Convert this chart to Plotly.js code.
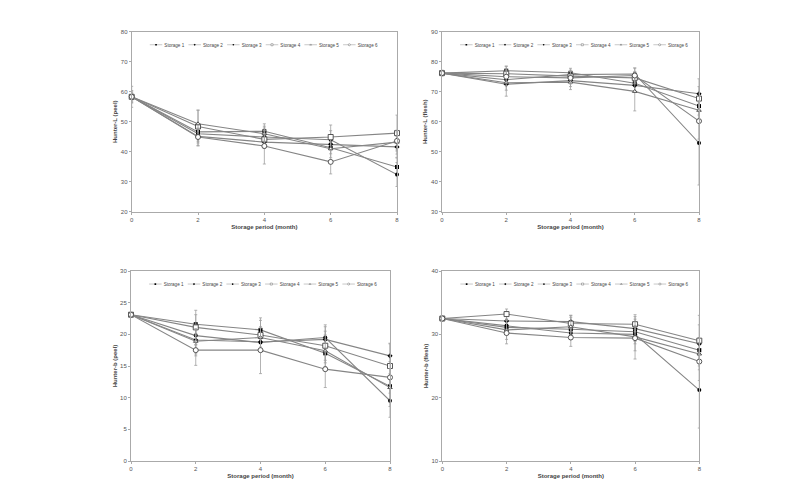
<!DOCTYPE html>
<html>
<head>
<meta charset="utf-8">
<script src="https://cdn.plot.ly/plotly-3.0.1.min.js"></script>
<style>html,body{margin:0;padding:0;background:#fff;}#chart{width:796px;height:498px;}</style>
</head>
<body>
<div id="chart"></div>
<script>
var months = [0, 2, 4, 6, 8];
var seriesNames = ["Storage 1", "Storage 2", "Storage 3", "Storage 4", "Storage 5", "Storage 6"];

// Hunter-L (peel)
var lPeel = [
  [58.3, 46.6, 46.8, 41.3, 34.9],
  [58.3, 45.1, 43.2, 42.5, 41.6],
  [58.3, 46.0, 44.9, 44.0, 32.4],
  [58.3, 48.4, 44.1, 44.9, 46.2],
  [58.3, 49.3, 46.0, 41.0, 43.2],
  [58.3, 44.9, 41.9, 36.6, 43.6]
];
var lPeelErr = [
  [1.0, 2.0, 2.5, 2.0, 3.0],
  [1.5, 3.0, 2.0, 2.0, 3.5],
  [1.0, 2.5, 2.0, 3.0, 4.0],
  [3.5, 5.5, 3.0, 4.0, 6.0],
  [2.0, 4.5, 2.5, 3.0, 4.0],
  [2.0, 3.0, 6.0, 4.0, 3.0]
];
// Hunter-L (flesh)
var lFlesh = [
  [76.2, 77.0, 76.3, 72.8, 65.2],
  [76.2, 72.5, 73.7, 72.1, 69.3],
  [76.2, 74.0, 75.7, 75.9, 52.9],
  [76.2, 76.0, 75.2, 74.6, 67.7],
  [76.2, 73.0, 73.2, 70.1, 63.8],
  [76.2, 75.0, 74.6, 75.4, 60.2]
];
var lFleshErr = [
  [0.5, 1.5, 1.5, 2.5, 3.0],
  [0.8, 2.0, 2.0, 2.0, 5.0],
  [0.5, 2.0, 1.5, 2.0, 14.0],
  [1.0, 2.5, 1.5, 2.0, 4.0],
  [0.5, 4.5, 2.5, 6.5, 3.0],
  [0.8, 2.0, 2.0, 2.5, 6.0]
];
// Hunter-b (peel)
var bPeel = [
  [23.1, 21.6, 20.7, 17.0, 11.8],
  [23.1, 19.1, 18.8, 19.2, 16.6],
  [23.1, 19.8, 18.7, 19.5, 9.5],
  [23.1, 21.1, 19.9, 18.2, 15.0],
  [23.1, 18.9, 19.5, 17.4, 11.6],
  [23.1, 17.5, 17.5, 14.5, 13.2]
];
var bPeelErr = [
  [0.3, 1.5, 1.5, 1.5, 2.0],
  [0.3, 2.5, 1.5, 2.0, 2.0],
  [0.3, 1.5, 1.5, 2.0, 2.6],
  [0.3, 2.7, 2.7, 2.3, 3.5],
  [0.3, 2.0, 1.5, 2.5, 3.0],
  [0.3, 2.4, 3.7, 2.9, 2.5]
];
// Hunter-b (flesh)
var bFlesh = [
  [32.5, 31.1, 30.8, 30.4, 27.5],
  [32.5, 32.1, 32.0, 30.9, 28.5],
  [32.5, 31.4, 30.2, 30.0, 21.2],
  [32.5, 33.2, 31.7, 31.6, 29.0],
  [32.5, 30.7, 31.2, 29.6, 26.9],
  [32.5, 30.2, 29.5, 29.4, 25.7]
];
var bFleshErr = [
  [0.3, 1.0, 1.0, 1.5, 2.0],
  [0.3, 1.5, 1.0, 1.5, 3.0],
  [0.3, 1.0, 1.0, 1.5, 6.0],
  [0.3, 0.8, 1.3, 1.2, 4.0],
  [0.3, 1.5, 1.5, 3.5, 2.5],
  [0.3, 1.7, 1.4, 2.0, 3.0]
];

var yTitles = ["Hunter-L (peel)", "Hunter-L (flesh)", "Hunter-b (peel)", "Hunter-b (flesh)"];
var yRanges = [[20, 80], [30, 90], [0, 30], [10, 40]];
var yDtick = [10, 10, 5, 10];
var xTitle = "Storage period (month)";

var panels = [
  {vals: lPeel, errs: lPeelErr},
  {vals: lFlesh, errs: lFleshErr},
  {vals: bPeel, errs: bPeelErr},
  {vals: bFlesh, errs: bFleshErr}
];

var markerSymbols = ["square", "diamond", "circle", "square", "triangle-up", "circle"];
var markerOpen = [false, false, false, true, true, true];
var markerSizes = [4, 4, 4, 5, 4, 5];

var W = 796, H = 498;
var boxes = [
  {x0: 131.7, x1: 397, y0: 31.7, y1: 211.7},
  {x0: 442, x1: 699, y0: 31.7, y1: 211.7},
  {x0: 131, x1: 390, y0: 271, y1: 461},
  {x0: 442.3, x1: 699.3, y0: 271, y1: 461}
];

var traces = [];
var layout = {
  width: W, height: H,
  margin: {l: 0, r: 0, t: 0, b: 0, autoexpand: false},
  paper_bgcolor: "#fff",
  plot_bgcolor: "#fff",
  font: {family: "Liberation Sans, Arial, sans-serif", size: 6, color: "#444"},
  showlegend: true
};

panels.forEach(function (p, pi) {
  var sfx = pi === 0 ? "" : String(pi + 1);
  var b = boxes[pi];
  p.vals.forEach(function (vals, si) {
    var open = markerOpen[si];
    traces.push({
      type: "scatter",
      mode: "lines+markers",
      name: seriesNames[si],
      x: months,
      y: vals,
      xaxis: "x" + sfx,
      yaxis: "y" + sfx,
      legend: "legend" + sfx,
      error_y: {type: "data", array: p.errs[si], visible: true, color: "#a0a0a0", thickness: 0.8, width: 1.5},
      line: {color: "#858585", width: 1.1},
      marker: {symbol: markerSymbols[si], size: markerSizes[si], color: open ? "#fff" : "#000",
               line: {color: open ? "#444" : "#000", width: open ? 0.9 : 0}},
      cliponaxis: false
    });
  });
  var axBase = {
    showline: true, linecolor: "#aaa", linewidth: 1, mirror: true,
    ticks: "outside", ticklen: 2, tickcolor: "#aaa",
    showgrid: false, zeroline: false, automargin: false,
    tickfont: {size: 6, color: "#555"}
  };
  layout["xaxis" + sfx] = Object.assign({}, axBase, {
    domain: [b.x0 / W, b.x1 / W],
    anchor: "y" + sfx,
    range: [0, 8], tickvals: months,
    title: {text: "<b>" + xTitle + "</b>", font: {size: 6, color: "#444"}, standoff: 2}
  });
  layout["yaxis" + sfx] = Object.assign({}, axBase, {
    domain: [1 - b.y1 / H, 1 - b.y0 / H],
    anchor: "x" + sfx,
    range: yRanges[pi], dtick: yDtick[pi],
    title: {text: "<b>" + yTitles[pi] + "</b>", font: {size: 6, color: "#444"}, standoff: 2}
  });
  layout["legend" + sfx] = {
    orientation: "h",
    x: (b.x0 + 16) / W, xanchor: "left",
    y: 1 - (b.y0 + 7) / H, yanchor: "top",
    font: {size: 11, color: "#444"},
    bgcolor: "rgba(0,0,0,0)",
    itemwidth: 30,
    borderwidth: 0
  };
});

Plotly.newPlot("chart", traces, layout, {staticPlot: true, displayModeBar: false}).then(function (gd) {
  // shrink each legend row to the compact width used in the original figure
  var targetWidth = 232;
  var groups = gd.querySelectorAll("g");
  groups.forEach(function (g) {
    var cls = g.getAttribute("class") || "";
    if (!/^legend\d*$/.test(cls)) return;
    var bb = g.getBBox();
    if (!bb.width) return;
    var s = targetWidth / bb.width;
    var t = g.getAttribute("transform") || "";
    g.setAttribute("transform", t + " scale(" + s.toFixed(3) + ")");
  });
});
</script>
</body>
</html>
